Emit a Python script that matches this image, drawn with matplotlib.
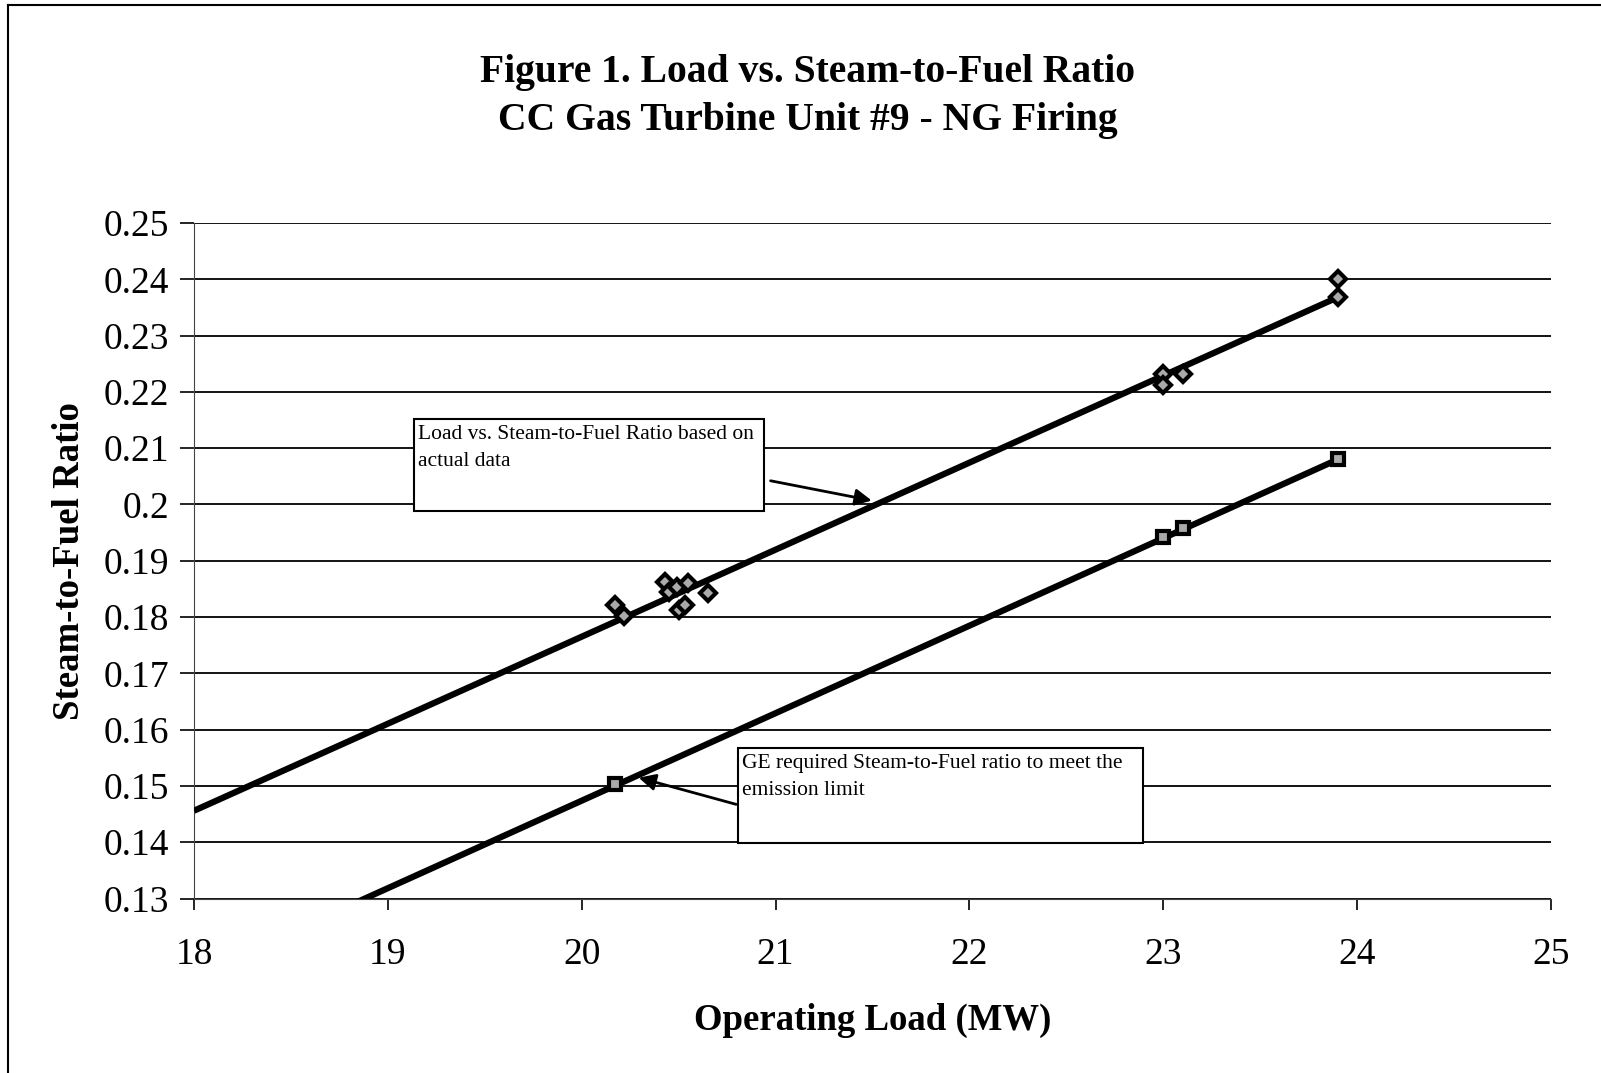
import matplotlib.pyplot as plt
import numpy as np

plt.rcParams['font.family'] = ['Liberation Serif', 'DejaVu Serif']

# measured points - actual data (diamonds)
load_actual = [20.17, 20.22, 20.43, 20.45, 20.49, 20.55, 20.50, 20.53, 20.65,
               23.0, 23.0, 23.1, 23.9, 23.9]
ratio_actual = [0.1822, 0.1802, 0.1862, 0.1844, 0.1853, 0.1860, 0.1813, 0.1822, 0.1842,
                0.2232, 0.2212, 0.2232, 0.2400, 0.2368]

# GE required ratio (squares)
load_ge = [20.17, 23.0, 23.1, 23.9]
ratio_ge = [0.1503, 0.1942, 0.1958, 0.2080]

# trend lines (end points)
trend_actual_x = [18.0, 23.9]
trend_actual_y = [0.1456, 0.2368]
trend_ge_x = [18.0, 23.9]
trend_ge_y = [0.1163, 0.2080]

fig = plt.figure(figsize=(16.01, 10.73), dpi=100)
ax = fig.add_axes([0.1212, 0.1626, 0.8476, 0.6296])

ax.plot(trend_actual_x, trend_actual_y, color='black', lw=4.5, solid_capstyle='butt', zorder=3)
ax.plot(trend_ge_x, trend_ge_y, color='black', lw=4.5, solid_capstyle='butt', zorder=3)
ax.plot(load_actual, ratio_actual, ls='none', marker='D', ms=8, mfc='#aaaaaa', mec='black', mew=3, zorder=4)
ax.plot(load_ge, ratio_ge, ls='none', marker='s', ms=9, mfc='#aaaaaa', mec='black', mew=3, zorder=4)

ax.set_xlim(18, 25)
ax.set_ylim(0.13, 0.25)
ax.set_xticks(np.arange(18, 26, 1))
ax.set_yticks(np.arange(0.13, 0.2501, 0.01))
ax.set_yticklabels(['0.13', '0.14', '0.15', '0.16', '0.17', '0.18', '0.19', '0.2',
                    '0.21', '0.22', '0.23', '0.24', '0.25'])
ax.yaxis.grid(True, color='black', lw=1.3)
ax.set_axisbelow(True)
for s in ['top', 'right']:
    ax.spines[s].set_visible(False)
ax.spines['left'].set_color('#444444')
ax.spines['bottom'].set_color('#444444')
ax.tick_params(axis='y', direction='out', length=10, width=1.2, labelsize=27, pad=8)
ax.tick_params(axis='x', direction='out', length=8, width=1.2, labelsize=27, pad=20)

ax.set_xlabel('Operating Load (MW)', fontsize=26.5, fontweight='bold', labelpad=22)
ax.set_ylabel('Steam-to-Fuel Ratio', fontsize=26.5, fontweight='bold', labelpad=12)

fig.text(0.5045, 0.91, 'Figure 1. Load vs. Steam-to-Fuel Ratio\nCC Gas Turbine Unit #9 - NG Firing',
         ha='center', va='center', fontsize=28.5, fontweight='bold', linespacing=1.38)

# annotation boxes
ax.annotate('', xy=(21.51, 0.2006), xytext=(20.96, 0.2043),
            arrowprops=dict(arrowstyle='-|>', color='black', lw=2, mutation_scale=25), zorder=5)
ax.annotate('', xy=(20.28, 0.1516), xytext=(20.81, 0.1466),
            arrowprops=dict(arrowstyle='-|>', color='black', lw=2, mutation_scale=25), zorder=5)

box1 = plt.Rectangle((19.133, 0.1989), 1.806, 0.0163, facecolor='white', edgecolor='black', lw=1.5, zorder=6)
box2 = plt.Rectangle((20.804, 0.1398), 2.091, 0.0170, facecolor='white', edgecolor='black', lw=1.5, zorder=6)
ax.add_patch(box1)
ax.add_patch(box2)
ax.text(19.155, 0.2141, 'Load vs. Steam-to-Fuel Ratio based on\nactual data', fontsize=15.5,
        va='top', ha='left', zorder=7, linespacing=1.55)
ax.text(20.825, 0.1557, 'GE required Steam-to-Fuel ratio to meet the\nemission limit', fontsize=15.5,
        va='top', ha='left', zorder=7, linespacing=1.55)

# outer border lines (left and top)
fig.add_artist(plt.Line2D([0.005, 0.005], [0.0, 0.995], color='black', lw=1.5, transform=fig.transFigure))
fig.add_artist(plt.Line2D([0.005, 1.0], [0.995, 0.995], color='black', lw=1.5, transform=fig.transFigure))

fig.savefig('out.png', dpi=100)
